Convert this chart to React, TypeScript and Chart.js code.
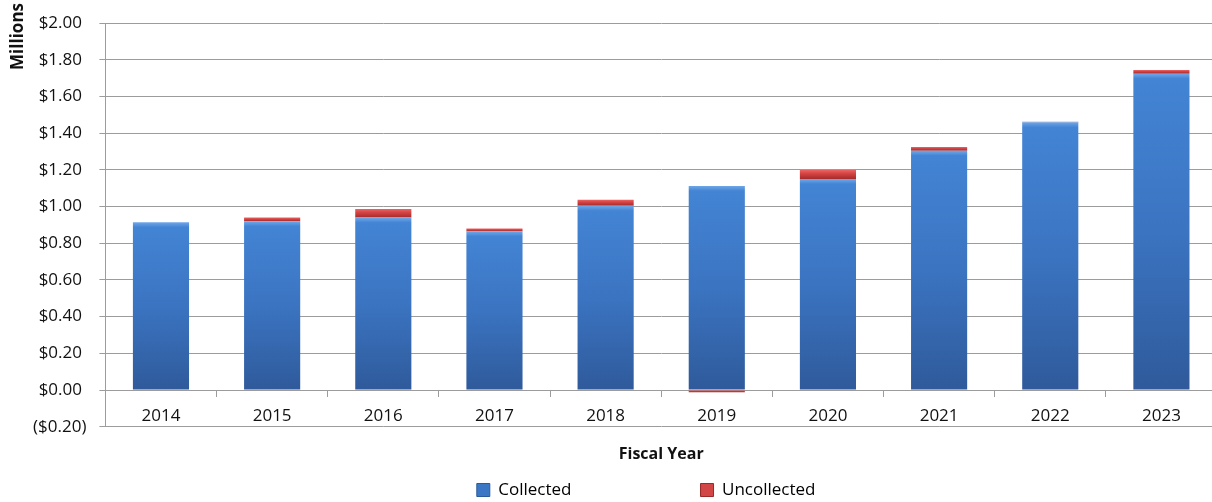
import React, { useEffect, useRef } from 'react';
import { Chart, registerables } from 'chart.js';

Chart.register(...registerables);

// ---- Data ----
const categories = ['2014', '2015', '2016', '2017', '2018', '2019', '2020', '2021', '2022', '2023'];
const collected = [0.915, 0.92, 0.94, 0.865, 1.005, 1.113, 1.15, 1.305, 1.46, 1.725];
const uncollected = [0, 0.02, 0.047, 0.015, 0.032, -0.012, 0.05, 0.02, 0.003, 0.02];
const seriesNames = ['Collected', 'Uncollected'];
const yMin = -0.2;
const yMax = 2.0;
const yStep = 0.2;
const xTitle = 'Fiscal Year';
const yTitle = 'Millions';

const FONT = 'Open Sans';
const TEXT = '#111111';
const GRID = '#9c9c9c';

function formatMoney(v: number): string {
  const s = '$' + Math.abs(v).toFixed(2);
  return v < -1e-9 ? '(' + s + ')' : s + ' ';
}

function segGradient(ctx: CanvasRenderingContext2D, top: number, bottom: number, stops: [number, string][]) {
  const g = ctx.createLinearGradient(0, top, 0, bottom);
  for (const [o, c] of stops) g.addColorStop(Math.max(0, Math.min(1, o)), c);
  return g;
}

// Draws the y-axis title rotated at the top-left, like the reference.
const yTitlePlugin = {
  id: 'yTitleTop',
  afterDraw(chart: any) {
    const { ctx } = chart;
    ctx.save();
    ctx.translate(18, 3);
    ctx.rotate(-Math.PI / 2);
    ctx.font = `bold 17px "${FONT}"`;
    ctx.fillStyle = TEXT;
    ctx.textAlign = 'right';
    ctx.textBaseline = 'middle';
    ctx.fillText(yTitle, 0, 0);
    ctx.restore();
  },
};

export default function App() {
  const ref = useRef<HTMLCanvasElement | null>(null);

  useEffect(() => {
    if (!ref.current) return;

    const blueFill = (c: any) => {
      const chart = c.chart;
      const ys = chart.scales?.y;
      if (!chart.chartArea || !ys || c.type !== 'data') return '#3c77c6';
      const i = c.dataIndex;
      const top = ys.getPixelForValue(collected[i]);
      const bottom = ys.getPixelForValue(0);
      const h = Math.max(1, bottom - top);
      return segGradient(chart.ctx, top, bottom, [
        [0, '#70a8e8'],
        [5 / h, '#4384d4'],
        [0.5, '#3b74c1'],
        [1, '#2f5a9b'],
      ]);
    };
    const redFill = (c: any) => {
      const chart = c.chart;
      const ys = chart.scales?.y;
      if (!chart.chartArea || !ys || c.type !== 'data') return '#cc4040';
      const i = c.dataIndex;
      const v = uncollected[i];
      const a = v >= 0 ? collected[i] : 0;
      const top = ys.getPixelForValue(a + Math.max(v, 0));
      const bottom = ys.getPixelForValue(v >= 0 ? a : v);
      return segGradient(chart.ctx, top, Math.max(bottom, top + 1), [
        [0, '#ec6464'],
        [0.4, '#d44444'],
        [1, '#a42a2a'],
      ]);
    };

    const spacer = () => ({
      text: '',
      fillStyle: 'rgba(0,0,0,0)',
      strokeStyle: 'rgba(0,0,0,0)',
      lineWidth: 0,
      hidden: false,
    });

    const chart = new Chart(ref.current, {
      type: 'bar',
      data: {
        labels: categories,
        datasets: [
          {
            label: seriesNames[0],
            data: collected,
            backgroundColor: blueFill,
            borderWidth: 0,
            categoryPercentage: 1,
            barPercentage: 0.505,
          },
          {
            label: seriesNames[1],
            data: uncollected,
            backgroundColor: redFill,
            borderWidth: 0,
            categoryPercentage: 1,
            barPercentage: 0.505,
          },
        ],
      },
      options: {
        animation: false,
        responsive: true,
        maintainAspectRatio: false,
        layout: { padding: { top: 23, left: 4, right: 1, bottom: 0 } },
        scales: {
          x: {
            stacked: true,
            position: { y: 0 } as any,
            grid: {
              display: true,
              drawOnChartArea: false,
              drawTicks: true,
              tickLength: 6,
              color: GRID,
              offset: true,
            },
            border: { display: true, color: GRID, width: 1 },
            ticks: { padding: 10, color: TEXT, font: { family: FONT, size: 17 } },
            afterFit: (s: any) => {
              s.height = 0;
            },
          },
          y: {
            stacked: true,
            min: yMin,
            max: yMax,
            ticks: {
              stepSize: yStep,
              padding: 13,
              color: TEXT,
              font: { family: FONT, size: 17 },
              callback: (v: any) => formatMoney(Number(v)),
            },
            grid: { color: GRID, tickLength: 6, drawTicks: true, lineWidth: 1 },
            border: { display: true, color: GRID, width: 1 },
            title: { display: false },
            afterFit: (s: any) => {
              s.width = 101.4;
            },
          },
        },
        plugins: {
          tooltip: { enabled: false },
          title: {
            display: true,
            text: xTitle,
            position: 'bottom',
            fullSize: false,
            weight: 500,
            color: TEXT,
            font: { family: FONT, size: 16, weight: 'bold' },
            padding: { top: 18, bottom: 9 },
          } as any,
          legend: {
            display: true,
            position: 'bottom',
            fullSize: false,
            maxHeight: 29.1,
            onClick: () => {},
            labels: {
              boxWidth: 13,
              boxHeight: 13,
              padding: 8.6,
              color: TEXT,
              font: { family: FONT, size: 17 },
              generateLabels: () => [
                { text: seriesNames[0], fillStyle: '#3c77c6', strokeStyle: '#2b5a9a', lineWidth: 1, hidden: false, datasetIndex: 0 },
                spacer(),
                spacer(),
                spacer(),
                spacer(),
                { text: seriesNames[1], fillStyle: '#d24646', strokeStyle: '#9a2a2a', lineWidth: 1, hidden: false, datasetIndex: 1 },
                spacer(),
              ] as any,
            },
          } as any,
        },
      },
      plugins: [yTitlePlugin],
    });

    return () => chart.destroy();
  }, []);

  return (
    <div style={{ position: 'fixed', left: 0, top: 0, width: 1212, height: 502, overflow: 'hidden', background: '#ffffff' }}>
      <div style={{ position: 'relative', width: 1218, height: 502 }}>
        <canvas ref={ref} />
      </div>
    </div>
  );
}
